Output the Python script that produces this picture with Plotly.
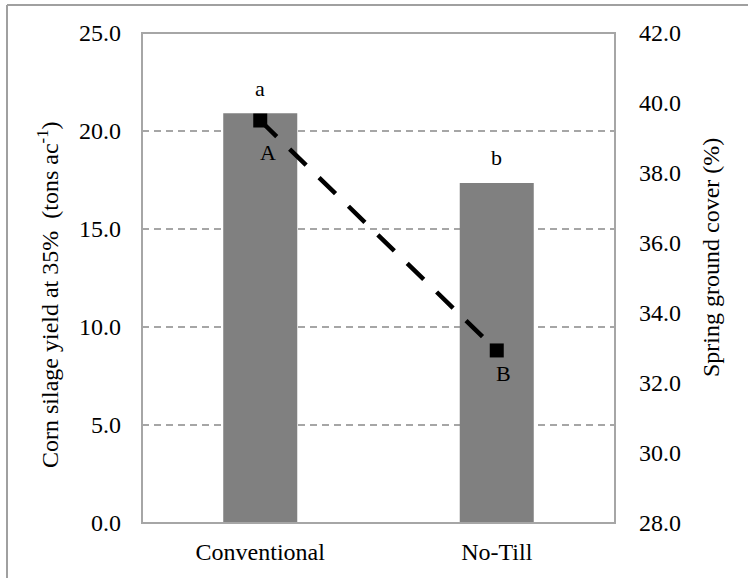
import plotly.graph_objects as go

categories = ["Conventional", "No-Till"]
yield_values = [20.9, 17.35]          # Corn silage yield (tons/ac), left axis
cover_values = [39.5, 32.93]          # Spring ground cover (%), right axis
bar_letters = ["a", "b"]
line_letters = ["A", "B"]
left_ticks = [0, 5, 10, 15, 20, 25]
right_ticks = [28, 30, 32, 34, 36, 38, 40, 42]

FONT = "Liberation Serif"
W, H = 748, 578
ML, MR, MT, MB = 142, 133, 33, 55
PW, PH = W - ML - MR, H - MT - MB

fig = go.Figure()
fig.add_trace(go.Bar(
    x=categories, y=yield_values, marker=dict(color="#808080", line=dict(width=0)),
    yaxis="y", showlegend=False, hoverinfo="skip",
))
fig.add_trace(go.Scatter(
    x=categories, y=cover_values, yaxis="y2", mode="lines+markers",
    line=dict(color="black", width=4.5, dash="23px,18px"),
    marker=dict(symbol="square", size=14, color="black"),
    showlegend=False, hoverinfo="skip",
))

annotations = []
# letters above bars
for cat, val, txt in zip(categories, yield_values, bar_letters):
    annotations.append(dict(x=cat, y=val, xref="x", yref="y", text=txt, showarrow=False,
                            yshift=25, font=dict(family=FONT, size=22, color="black")))
# letters below line markers
shifts = [(8, -32), (7, -23)]
for cat, val, txt, (dx, dy) in zip(categories, cover_values, line_letters, shifts):
    annotations.append(dict(x=cat, y=val, xref="x", yref="y2", text=txt, showarrow=False,
                            xshift=dx, yshift=dy, font=dict(family=FONT, size=22, color="black")))
# axis titles
annotations.append(dict(x=(48 - ML) / PW, y=(H - MB - 295) / PH, xref="paper", yref="paper",
                        xanchor="center", yanchor="middle",
                        text="Corn silage yield at 35%  (tons ac<sup>-1</sup>)", textangle=-90,
                        showarrow=False, font=dict(family=FONT, size=24, color="black")))
annotations.append(dict(x=(711 - ML) / PW, y=(H - MB - 258) / PH, xref="paper", yref="paper",
                        xanchor="center", yanchor="middle",
                        text="Spring ground cover (%)", textangle=-90,
                        showarrow=False, font=dict(family=FONT, size=24, color="black")))

def px_x(p):
    return (p - ML) / PW

def px_y(p):
    return (H - MB - p) / PH

shapes = [
    dict(type="rect", xref="paper", yref="paper", x0=0, x1=1, y0=0, y1=1,
         line=dict(color="#a6a6a6", width=2), layer="above"),
    dict(type="line", xref="paper", yref="paper", x0=px_x(7), x1=px_x(748), y0=px_y(5), y1=px_y(5),
         line=dict(color="#a0a0a0", width=2)),
    dict(type="line", xref="paper", yref="paper", x0=px_x(7), x1=px_x(7), y0=px_y(5), y1=px_y(578),
         line=dict(color="#a0a0a0", width=2)),
]

tickfont = dict(family=FONT, size=24, color="black")
fig.update_layout(
    width=W, height=H,
    font=dict(family=FONT, size=24, color="black"),
    margin=dict(l=ML, r=MR, t=MT, b=MB),
    paper_bgcolor="white", plot_bgcolor="white",
    bargap=0.687,
    hovermode=False,
    xaxis=dict(type="category", showgrid=False, showline=False, ticks="",
               tickfont=tickfont, ticklabelstandoff=12),
    yaxis=dict(range=[0, 25], tickvals=left_ticks, tickformat=".1f", showgrid=True,
               gridcolor="#a6a6a6", griddash="7px,5px", gridwidth=1.5, zeroline=False,
               showline=False, ticks="", tickfont=tickfont, ticklabelstandoff=20),
    yaxis2=dict(range=[28, 42], tickvals=right_ticks, tickformat=".1f", overlaying="y",
                side="right", showgrid=False, zeroline=False, showline=False, ticks="",
                tickfont=tickfont, ticklabelstandoff=23),
    annotations=annotations,
    shapes=shapes,
)

fig.write_html("out.html", config={"displayModeBar": False, "staticPlot": True},
               post_script="document.body.style.margin='0';")
